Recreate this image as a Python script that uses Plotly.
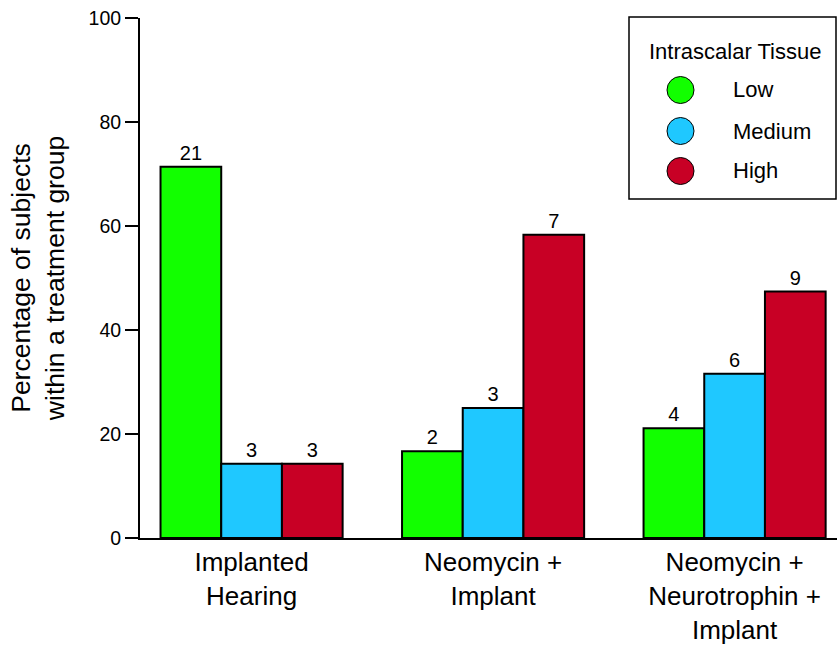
import plotly.graph_objects as go

groups = ["Implanted<br>Hearing", "Neomycin +<br>Implant", "Neomycin +<br>Neurotrophin +<br>Implant"]
levels = ["Low", "Medium", "High"]
low_pct = [71.4, 16.7, 21.1]
medium_pct = [14.3, 25.0, 31.6]
high_pct = [14.3, 58.3, 47.4]
low_n = [21, 2, 4]
medium_n = [3, 3, 6]
high_n = [3, 7, 9]
colors = ["#12FF00", "#1FC8FF", "#C80025"]
y_ticks = [0, 20, 40, 60, 80, 100]

FONT = "Liberation Sans, Arial, sans-serif"
W, H = 837, 647
L, R, T, B = 140, 0, 18, 109
pw, ph = W - L - R, H - T - B

fig = go.Figure()
xs = [0, 1, 2]
for name, vals, ns, col in zip(levels, [low_pct, medium_pct, high_pct], [low_n, medium_n, high_n], colors):
    fig.add_trace(go.Bar(
        x=xs, y=vals, name=name, marker=dict(color=col, line=dict(color="black", width=2)),
        text=[str(n) for n in ns], textposition="outside", cliponaxis=False,
        textfont=dict(size=20, color="black", family=FONT), showlegend=False,
    ))

def px_x(px):
    return (px - L) / pw

def px_y(py):
    return (H - B - py) / ph

shapes = [dict(type="rect", xref="paper", yref="paper", x0=px_x(629), x1=px_x(836),
               y0=px_y(199), y1=px_y(17), line=dict(color="black", width=1.5), fillcolor="white")]
annotations = [dict(text="Intrascalar Tissue", xref="paper", yref="paper", x=px_x(735), y=px_y(51),
                    showarrow=False, xanchor="center", yanchor="middle",
                    font=dict(size=22, family=FONT, color="black"))]
for i, (name, col) in enumerate(zip(levels, colors)):
    cy = [90, 131, 171][i]
    shapes.append(dict(type="circle", xref="paper", yref="paper", x0=px_x(667), x1=px_x(694),
                       y0=px_y(cy + 13.5), y1=px_y(cy - 13.5), fillcolor=col, line=dict(color="black", width=1)))
    annotations.append(dict(text=name, xref="paper", yref="paper", x=px_x(731), y=px_y(cy),
                            showarrow=False, xanchor="left", yanchor="middle",
                            font=dict(size=22, family=FONT, color="black")))

fig.update_layout(
    width=W, height=H, margin=dict(l=L, r=R, t=T, b=B),
    paper_bgcolor="white", plot_bgcolor="white",
    barmode="group", bargap=0.246, bargroupgap=0,
    font=dict(family=FONT, color="black"),
    shapes=shapes, annotations=annotations,
    xaxis=dict(range=[-0.462, 2.424], tickvals=xs, ticktext=groups, showline=True,
               linecolor="black", linewidth=1.5, ticks="", showgrid=False, zeroline=False,
               tickfont=dict(size=26, family=FONT, color="black")),
    yaxis=dict(range=[0, 100], tickvals=y_ticks, showline=True, linecolor="black", linewidth=2,
               ticks="outside", ticklen=13, tickwidth=2, tickcolor="black", showgrid=False,
               zeroline=False, tickfont=dict(size=19.5, family=FONT, color="black"),
               title=dict(text="Percentage of subjects<br>within a treatment group",
                          font=dict(size=26.5, family=FONT, color="black"), standoff=16)),
    showlegend=False,
)
fig.write_html("out.html", config={"displayModeBar": False},
               post_script="document.body.style.margin='0';document.body.style.overflow='hidden';")
